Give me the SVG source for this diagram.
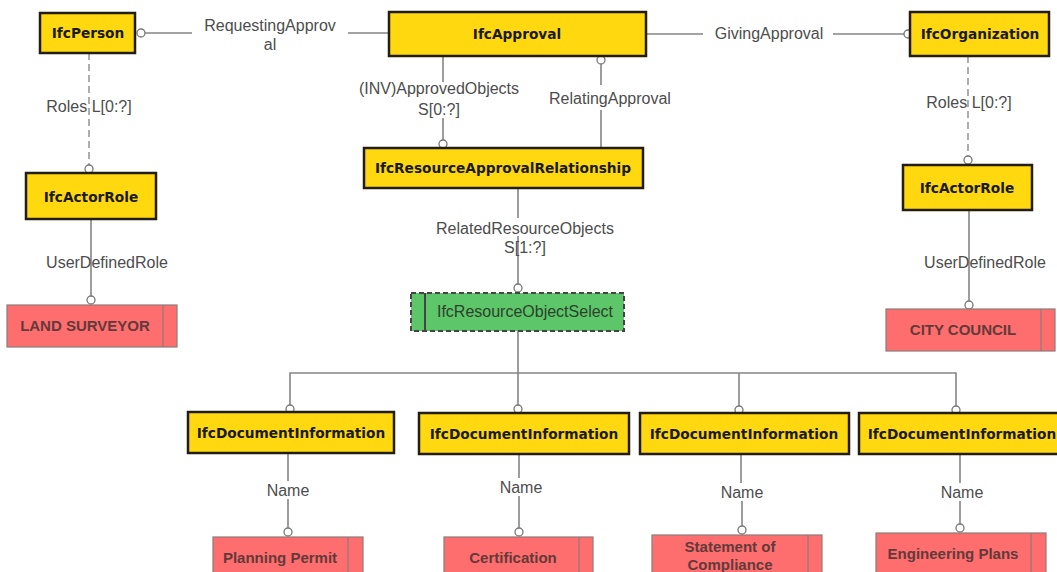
<svg xmlns="http://www.w3.org/2000/svg" width="1057" height="572" viewBox="0 0 1057 572">
<style>
.ent{fill:#ffd80f;stroke:#221d0c;stroke-width:2.5}
.et{font-family:"DejaVu Sans",Verdana,sans-serif;font-weight:bold;font-size:13.7px;fill:#1a1a1a;text-anchor:middle}
.lbl{font-family:"Liberation Sans",Arial,sans-serif;font-size:16px;fill:#4d4d4d;text-anchor:middle}
.val{fill:#ff6e6e;stroke:#8c7a7a;stroke-width:1.2}
.vt{font-family:"Liberation Sans",Arial,sans-serif;font-weight:bold;font-size:15px;fill:#623a3a;text-anchor:middle}
.sel{fill:#5cc668;stroke:#444;stroke-width:2;stroke-dasharray:5 3}
.st{font-family:"Liberation Sans",Arial,sans-serif;font-size:16px;fill:#2f3f2f;text-anchor:middle}
.c{fill:none;stroke:#858585;stroke-width:1.6}
.d{fill:none;stroke:#9a9a9a;stroke-width:1.6;stroke-dasharray:7 4}
.o{fill:#fff;stroke:#777;stroke-width:1.3}
</style>
<rect width="1057" height="572" fill="#fff"/>
<g id="connectors">
  <line class="c" x1="145" y1="33" x2="192" y2="33"/>
  <line class="c" x1="348" y1="33" x2="389" y2="33"/>
  <circle class="o" cx="141" cy="33" r="4"/>
  <line class="c" x1="646" y1="34" x2="703" y2="34"/>
  <line class="c" x1="833" y1="34" x2="904" y2="34"/>
  <circle class="o" cx="908" cy="34" r="4"/>
  <line class="d" x1="89" y1="53" x2="89" y2="165"/>
  <circle class="o" cx="89" cy="169" r="4"/>
  <line class="d" x1="968" y1="56" x2="968" y2="156"/>
  <circle class="o" cx="968" cy="160" r="4"/>
  <line class="c" x1="91" y1="219" x2="91" y2="296"/>
  <circle class="o" cx="91" cy="300" r="4"/>
  <line class="c" x1="969" y1="210" x2="969" y2="301"/>
  <circle class="o" cx="969" cy="305" r="4"/>
  <line class="c" x1="443" y1="56" x2="443" y2="82"/>
  <line class="c" x1="443" y1="118" x2="443" y2="140"/>
  <circle class="o" cx="443" cy="144" r="4"/>
  <circle class="o" cx="601" cy="60" r="4"/>
  <line class="c" x1="601" y1="64" x2="601" y2="85"/>
  <line class="c" x1="601" y1="110" x2="601" y2="148"/>
  <line class="c" x1="518" y1="188" x2="518" y2="218"/>
  <line class="c" x1="518" y1="236" x2="518" y2="284"/>
  <circle class="o" cx="518" cy="288" r="4"/>
  <line class="c" x1="518" y1="331" x2="518" y2="405"/>
  <polyline class="c" points="290,405 290,373 956,373 956,406"/>
  <line class="c" x1="739" y1="373" x2="739" y2="406"/>
  <circle class="o" cx="290" cy="409" r="4"/>
  <circle class="o" cx="518" cy="409" r="4"/>
  <circle class="o" cx="739" cy="410" r="4"/>
  <circle class="o" cx="956" cy="410" r="4"/>
  <line class="c" x1="288" y1="453" x2="288" y2="481"/>
  <line class="c" x1="288" y1="499" x2="288" y2="528"/>
  <circle class="o" cx="288" cy="532" r="4"/>
  <line class="c" x1="519" y1="454" x2="519" y2="478"/>
  <line class="c" x1="519" y1="496" x2="519" y2="528"/>
  <circle class="o" cx="519" cy="532" r="4"/>
  <line class="c" x1="741" y1="454" x2="741" y2="483"/>
  <line class="c" x1="742" y1="501" x2="742" y2="526"/>
  <circle class="o" cx="742" cy="530" r="4"/>
  <line class="c" x1="960" y1="454" x2="960" y2="483"/>
  <line class="c" x1="960" y1="501" x2="960" y2="524"/>
  <circle class="o" cx="960" cy="528" r="4"/>
  <text class="lbl" x="270" y="31">RequestingApprov</text>
  <text class="lbl" x="270" y="50">al</text>
  <text class="lbl" x="769" y="39">GivingApproval</text>
  <text class="lbl" x="89" y="112">Roles L[0:?]</text>
  <text class="lbl" x="969" y="108">Roles L[0:?]</text>
  <text class="lbl" x="107" y="268">UserDefinedRole</text>
  <text class="lbl" x="985" y="268">UserDefinedRole</text>
  <text class="lbl" x="439" y="94">(INV)ApprovedObjects</text>
  <text class="lbl" x="439" y="115">S[0:?]</text>
  <text class="lbl" x="610" y="104">RelatingApproval</text>
  <text class="lbl" x="525" y="234">RelatedResourceObjects</text>
  <text class="lbl" x="525" y="253">S[1:?]</text>
  <text class="lbl" x="288" y="496">Name</text>
  <text class="lbl" x="521" y="493">Name</text>
  <text class="lbl" x="742" y="498">Name</text>
  <text class="lbl" x="962" y="498">Name</text>
</g>
<g id="IfcPerson"><rect class="ent" x="40" y="13" width="95" height="40"/><text class="et" x="88" y="38">IfcPerson</text></g>
<g id="IfcApproval"><rect class="ent" x="389" y="12" width="257" height="44"/><text class="et" x="517" y="39">IfcApproval</text></g>
<g id="IfcOrganization"><rect class="ent" x="910" y="12" width="139" height="44"/><text class="et" x="980" y="39">IfcOrganization</text></g>
<g id="IfcActorRole1"><rect class="ent" x="26" y="173" width="130" height="46"/><text class="et" x="91" y="202">IfcActorRole</text></g>
<g id="IfcActorRole2"><rect class="ent" x="903" y="165" width="129" height="45"/><text class="et" x="967" y="193">IfcActorRole</text></g>
<g id="IfcResourceApprovalRelationship"><rect class="ent" x="364" y="148" width="279" height="40"/><text class="et" x="503" y="173">IfcResourceApprovalRelationship</text></g>
<g id="IfcResourceObjectSelect"><rect class="sel" x="411" y="293" width="213" height="38"/><line x1="425" y1="293" x2="425" y2="331" stroke="#444" stroke-width="2"/><text class="st" x="525" y="317">IfcResourceObjectSelect</text></g>
<g id="LandSurveyor"><rect class="val" x="7" y="305" width="170" height="42"/><line class="val" x1="163" y1="305" x2="163" y2="347"/><text class="vt" x="85" y="331">LAND SURVEYOR</text></g>
<g id="CityCouncil"><rect class="val" x="886" y="309" width="169" height="42"/><line class="val" x1="1041" y1="309" x2="1041" y2="351"/><text class="vt" x="963" y="335">CITY COUNCIL</text></g>
<g id="IfcDocumentInformation1"><rect class="ent" x="188" y="412" width="206" height="41"/><text class="et" x="291" y="438">IfcDocumentInformation</text></g>
<g id="IfcDocumentInformation2"><rect class="ent" x="419" y="413" width="210" height="41"/><text class="et" x="524" y="439">IfcDocumentInformation</text></g>
<g id="IfcDocumentInformation3"><rect class="ent" x="640" y="413" width="209" height="41"/><text class="et" x="744" y="439">IfcDocumentInformation</text></g>
<g id="IfcDocumentInformation4"><rect class="ent" x="859" y="413" width="208" height="41"/><text class="et" x="962" y="439">IfcDocumentInformation</text></g>
<g id="PlanningPermit"><rect class="val" x="213" y="537" width="150" height="40"/><line class="val" x1="348" y1="537" x2="348" y2="577"/><text class="vt" x="280" y="563">Planning Permit</text></g>
<g id="Certification"><rect class="val" x="444" y="537" width="149" height="40"/><line class="val" x1="579" y1="537" x2="579" y2="577"/><text class="vt" x="513" y="563">Certification</text></g>
<g id="StatementOfCompliance"><rect class="val" x="652" y="535" width="170" height="42"/><line class="val" x1="808" y1="535" x2="808" y2="577"/><text class="vt" x="730" y="552">Statement of</text><text class="vt" x="730" y="570">Compliance</text></g>
<g id="EngineeringPlans"><rect class="val" x="876" y="533" width="170" height="44"/><line class="val" x1="1031" y1="533" x2="1031" y2="577"/><text class="vt" x="953" y="559">Engineering Plans</text></g>
</svg>
